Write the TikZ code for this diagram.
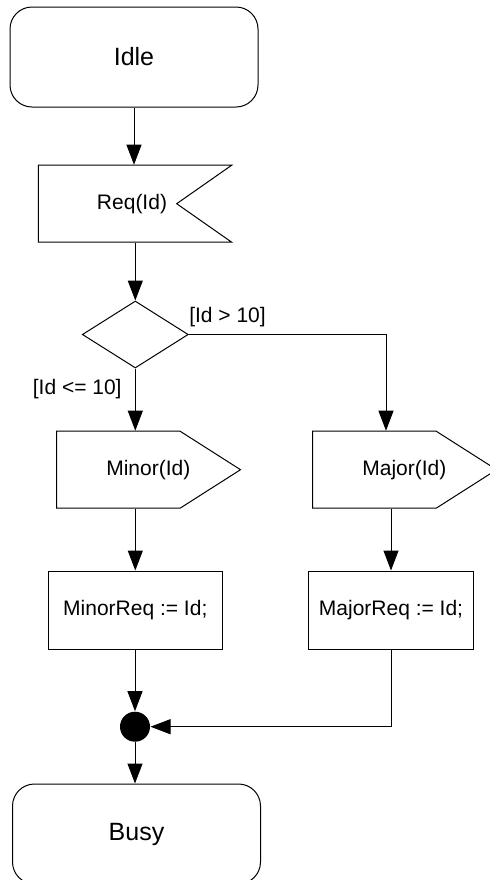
\documentclass[tikz,border=0pt]{standalone}
\usepackage{fontspec}
\setmainfont{Liberation Sans}
\usetikzlibrary{arrows.meta,shapes.geometric,shapes.symbols}
% text centred on the whole signal outline, not on its body
\newcommand{\sigtext}[2]{\makebox[0pt]{\hspace{#1}#2}}

\begin{document}
\begin{tikzpicture}[x=0.5pt,y=-0.5pt,line width=0.5pt,
  state/.style={draw,rectangle,rounded corners=11pt,minimum width=124pt,minimum height=50pt,font=\fontsize{12.5}{15}\selectfont},
  recv/.style={draw,signal,signal to=nowhere,signal from=east,signal pointer angle=70,minimum width=96.7pt,minimum height=38.5pt,font=\fontsize{10.5}{12.6}\selectfont},
  send/.style={draw,signal,signal to=east,signal pointer angle=65,minimum width=92pt,minimum height=38.5pt,font=\fontsize{10.5}{12.6}\selectfont},
  task/.style={draw,rectangle,minimum height=39pt,font=\fontsize{10.5}{12.6}\selectfont},
  choice/.style={draw,diamond,minimum width=53pt,minimum height=33.5pt,inner sep=0pt},
  guard/.style={inner sep=0pt,font=\fontsize{10.5}{12.6}\selectfont},
  flow/.style={-{Triangle[length=10pt,width=7.5pt]}}]
  \useasboundingbox (0,0) rectangle (489,880);
  % states and actions
  \node[state] (idle) at (134,57) {Idle};
  \node[recv] (req) at (107.5,203.7) {\sigtext{24.5pt}{Req(Id)}};
  \node[choice] (dec) at (135.3,334.5) {};
  \node[send] (minor) at (118.3,469.7) {\sigtext{30pt}{Minor(Id)}};
  \node[send] (major) at (374.4,469.7) {\sigtext{30pt}{Major(Id)}};
  \node[task,minimum width=87pt] (minorset) at (135.3,610) {MinorReq := Id;};
  \node[task,minimum width=82.3pt] (majorset) at (391,610) {MajorReq := Id;};
  \node[circle,fill,inner sep=0pt,minimum size=15pt] (join) at (135,726.7) {};
  \node[state] (busy) at (136.5,834) {Busy};
  % guards
  \node[guard,anchor=base west] (gt) at ([yshift=6.2pt]dec.east) {[Id > 10]};
  \node[guard,anchor=base east] (le) at ([xshift=-6.6pt,yshift=-12.8pt]dec.south) {[Id <= 10]};
  % flow
  \draw[flow] (idle) -- (idle.south |- req.north);
  \draw[flow] (req.south -| dec.north) -- (dec.north);
  \draw[flow] (dec.south) -- (dec.south |- minor.north);
  \draw[flow] (dec.east) -| ([xshift=5.8pt]major.north);
  \draw[flow] (minor.south -| minorset.north) -- (minorset.north);
  \draw[flow] (major.south -| majorset.north) -- (majorset.north);
  \draw[flow] (minorset.south -| join.north) -- (join.north);
  \draw[flow] (majorset.south) |- (join.east);
  \draw[flow] (join.south) -- (join.south |- busy.north);
\end{tikzpicture}
\end{document}
